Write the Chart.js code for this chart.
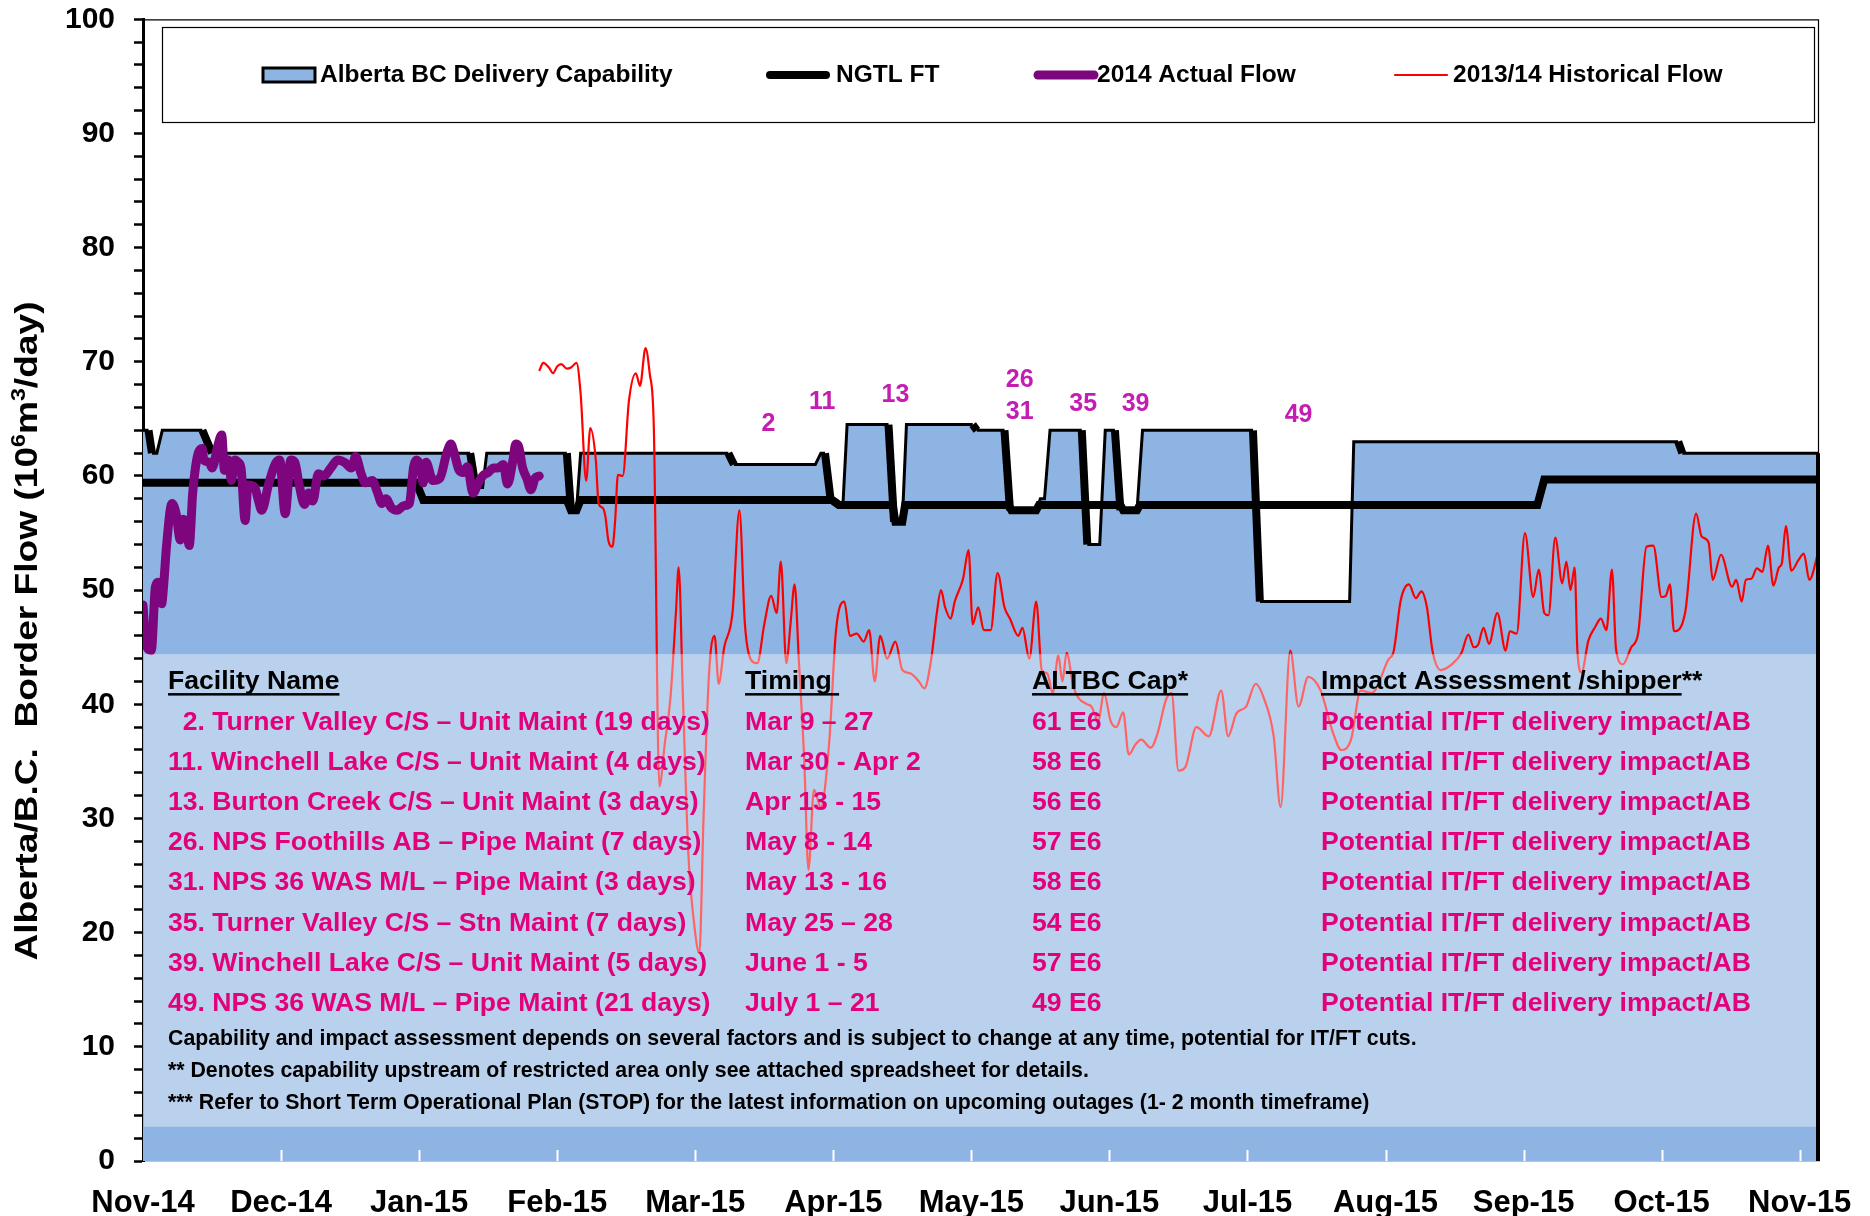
<!DOCTYPE html>
<html>
<head>
<meta charset="utf-8">
<title>Alberta/B.C. Border Flow</title>
<script src="https://cdn.jsdelivr.net/npm/chart.js@4.4.1/dist/chart.umd.min.js"></script>
<style>
  html, body { margin: 0; padding: 0; background: #fff; }
  #wrap { width: 1870px; height: 1216px; }
</style>
</head>
<body>
<div id="wrap"><canvas id="chart" width="1870" height="1216"></canvas></div>
<script>
// x values are months counted from Nov-14
var monthLabels = ['Nov-14', 'Dec-14', 'Jan-15', 'Feb-15', 'Mar-15', 'Apr-15', 'May-15',
    'Jun-15', 'Jul-15', 'Aug-15', 'Sep-15', 'Oct-15', 'Nov-15'];
var xEnd = 12.14;

// Alberta BC Delivery Capability
var capMonths = [0, 0.04, 0.065, 0.10, 0.14, 0.43, 0.50, 2.37, 2.41, 2.46, 2.49, 3.07, 3.10, 3.14, 3.17,
    4.24, 4.28, 4.87, 4.91, 4.94, 4.98, 5.04, 5.07, 5.10, 5.40, 5.44, 5.50, 5.53, 6.01, 6.04,
    6.24, 6.28, 6.47, 6.50, 6.53, 6.57, 6.80, 6.84, 6.93, 6.97, 7.04, 7.08, 7.20, 7.24, 8.04,
    8.09, 8.74, 8.77, 11.12, 11.15, 12.14];
var capValues = [64, 64, 62, 62, 64, 64, 62, 62, 59, 59, 62, 62, 57, 57, 62,
    62, 61, 61, 62, 62, 58, 57.5, 57.5, 64.5, 64.5, 56, 56, 64.5, 64.5, 64,
    64, 57, 57, 58, 58, 64, 64, 54, 54, 64, 64, 57, 57, 64, 64,
    49, 49, 63, 63, 62, 62];

// NGTL FT
var ftMonths = [0, 1.98, 2.03, 3.07, 3.10, 3.14, 3.17, 4.99, 5.04, 5.43, 5.45, 5.50, 5.52, 6.27, 6.29,
    6.47, 6.49, 7.08, 7.10, 7.20, 7.22, 10.10, 10.15, 12.14];
var ftValues = [59.4, 59.4, 57.9, 57.9, 57, 57, 57.9, 57.9, 57.45, 57.45, 56, 56, 57.45, 57.45, 57,
    57, 57.45, 57.45, 57, 57, 57.45, 57.45, 59.7, 59.7];

// 2014 Actual Flow
var actualMonths = [0, 0.02, 0.04, 0.06, 0.09, 0.11, 0.135, 0.15, 0.17, 0.21, 0.24, 0.27, 0.29, 0.31, 0.335,
    0.36, 0.40, 0.43, 0.44, 0.48, 0.50, 0.545, 0.57, 0.59, 0.62, 0.64, 0.665, 0.69, 0.71, 0.74,
    0.76, 0.81, 0.835, 0.86, 0.91, 0.96, 0.99, 1.03, 1.07, 1.10, 1.13, 1.17, 1.20, 1.23, 1.27,
    1.31, 1.36, 1.41, 1.46, 1.51, 1.54, 1.58, 1.61, 1.66, 1.70, 1.73, 1.76, 1.80, 1.84, 1.89,
    1.93, 1.96, 1.98, 2.01, 2.03, 2.05, 2.10, 2.15, 2.20, 2.23, 2.25, 2.29, 2.32, 2.35, 2.39,
    2.43, 2.46, 2.50, 2.54, 2.57, 2.61, 2.64, 2.68, 2.70, 2.72, 2.75, 2.78, 2.81, 2.84, 2.87];
var actualValues = [48.7, 45.5, 44.8, 44.7, 50.3, 50.7, 48.8, 50.5, 53.8, 57.6, 56.7, 54.4, 56.2, 55.9, 53.9,
    58.5, 62.0, 62.4, 61.4, 61.2, 60.7, 62.8, 63.6, 60.5, 61.4, 59.6, 61.4, 61.2, 60.7, 56.1,
    59.2, 59.0, 57.9, 57.0, 59.3, 61.1, 61.4, 56.7, 61.4, 61.2, 59.3, 57.5, 58.5, 57.8, 60.2,
    60.0, 60.7, 61.4, 61.2, 60.7, 61.7, 60.2, 59.4, 59.6, 58.5, 57.6, 58.0, 57.2, 57.0, 57.4,
    57.6, 60.8, 61.4, 60.8, 59.4, 61.2, 59.6, 59.8, 62.0, 62.8, 62.2, 60.5, 60.3, 60.8, 58.5,
    59.4, 60.0, 60.3, 60.7, 60.7, 61.0, 59.3, 61.4, 62.8, 62.6, 60.7, 59.8, 58.8, 59.8, 60.0];

// 2013/14 Historical Flow
var histMonths = [2.87, 2.90, 2.94, 2.97, 3.00, 3.03, 3.07, 3.10, 3.14, 3.17, 3.21, 3.24, 3.28, 3.30, 3.33,
    3.35, 3.37, 3.40, 3.42, 3.44, 3.475, 3.52, 3.57, 3.60, 3.64, 3.67, 3.70, 3.74, 3.78, 3.82,
    3.86, 3.88, 3.91, 3.95, 3.99, 4.03, 4.06, 4.10, 4.14, 4.17, 4.21, 4.27, 4.32, 4.36, 4.40,
    4.45, 4.50, 4.55, 4.59, 4.62, 4.66, 4.69, 4.72, 4.75, 4.79, 4.82, 4.86, 4.91, 4.97, 5.02,
    5.08, 5.12, 5.17, 5.22, 5.26, 5.30, 5.34, 5.39, 5.45, 5.50, 5.56, 5.62, 5.66, 5.71, 5.75,
    5.78, 5.81, 5.85, 5.88, 5.94, 5.98, 6.01, 6.05, 6.09, 6.14, 6.19, 6.24, 6.28, 6.34, 6.37,
    6.42, 6.47, 6.51, 6.55, 6.59, 6.63, 6.66, 6.69, 6.74, 6.78, 6.84, 6.87, 6.92, 6.96, 7.01,
    7.05, 7.10, 7.14, 7.19, 7.23, 7.30, 7.35, 7.41, 7.45, 7.50, 7.55, 7.63, 7.72, 7.81, 7.86,
    7.92, 7.99, 8.06, 8.12, 8.19, 8.24, 8.31, 8.37, 8.44, 8.53, 8.62, 8.68, 8.75, 8.82, 8.90,
    9.02, 9.06, 9.11, 9.17, 9.22, 9.26, 9.30, 9.34, 9.40, 9.48, 9.55, 9.60, 9.64, 9.67, 9.71,
    9.75, 9.81, 9.87, 9.90, 9.95, 10.01, 10.07, 10.11, 10.15, 10.18, 10.23, 10.28, 10.31, 10.34, 10.37,
    10.39, 10.42, 10.47, 10.52, 10.56, 10.60, 10.64, 10.67, 10.72, 10.78, 10.83, 10.89, 10.94, 11.00, 11.03,
    11.06, 11.09, 11.17, 11.25, 11.29, 11.34, 11.37, 11.43, 11.51, 11.54, 11.58, 11.61, 11.65, 11.69, 11.73,
    11.77, 11.81, 11.85, 11.87, 11.90, 11.94, 11.99, 12.03, 12.07, 12.14];
var histValues = [69.2, 69.9, 69.5, 69.0, 69.6, 69.8, 69.4, 69.5, 69.9, 67.2, 59.6, 64.2, 61.4, 57.6, 57.2,
    56.4, 54.4, 53.8, 56.1, 60.1, 60.0, 66.6, 69.0, 67.9, 71.2, 69.0, 64.3, 32.8, 36.6, 40.5,
    48, 52, 41, 27, 21, 18.2, 30, 42.7, 46, 41.8, 45, 48, 57, 47, 44,
    43.6, 47, 49.5, 48, 52.5, 43.6, 47, 50.5, 44, 35, 25.5, 32.5, 31, 36.6, 46.5,
    49, 46, 46.2, 45.5, 46.5, 42, 46, 44, 45.5, 43, 42.7, 42, 41.4, 44, 48,
    50, 48.5, 47.5, 49, 51, 53.5, 47, 48.5, 46.5, 46.5, 51.5, 48.5, 47.5, 46, 46.7,
    44, 49, 43, 42.7, 41, 44.3, 42, 44.5, 41.5, 40.5, 40, 39.8, 38.5, 41, 38.5,
    38, 39.3, 35.6, 36.5, 36.9, 36.2, 37.5, 40.4, 41, 34.2, 34.5, 38, 37.2, 41.2, 37.2,
    39.2, 39.8, 41.8, 40.5, 37.2, 31, 44.7, 39.8, 42.4, 41.2, 37.5, 36, 36.9, 41.2, 41,
    43.9, 44.7, 49.1, 50.5, 49.3, 49.9, 48.5, 44.7, 43, 43.5, 44.5, 46.1, 45, 45.2, 46.7,
    45.3, 48, 44.7, 46.4, 46.2, 55, 49.4, 51.8, 48, 47.8, 54.6, 50.6, 52.5, 50, 52,
    44.7, 42.8, 45.6, 46.8, 47.5, 46.5, 51.8, 44.8, 43.5, 45, 46.2, 53.8, 53.9, 49.4, 49.5,
    50.5, 46.4, 48, 56.7, 54.7, 54.2, 50.9, 53.1, 50.3, 50.9, 49, 50.9, 51, 51.9, 51.6,
    53.9, 50.4, 52, 52.3, 55.6, 51.7, 52.6, 53.2, 50.9, 53.6];

// outage numbers written above the capability line (month, value)
var outageIds = ['2', '11', '13', '26', '31', '35', '39', '49'];
var outageMonths = [4.53, 4.92, 5.45, 6.35, 6.35, 6.81, 7.19, 8.37];
var outageValues = [64.5, 66.5, 67.1, 68.4, 65.6, 66.3, 66.3, 65.3];

// outage table
var tableHeaders = ['Facility Name', 'Timing', 'ALTBC Cap*', 'Impact Assessment /shipper**'];
var facilityNames = [
    '  2. Turner Valley C/S \u2013 Unit Maint (19 days)',
    '11. Winchell Lake C/S \u2013 Unit Maint (4 days)',
    '13. Burton Creek C/S \u2013 Unit Maint (3 days)',
    '26. NPS Foothills AB \u2013 Pipe Maint (7 days)',
    '31. NPS 36 WAS M/L \u2013 Pipe Maint (3 days)',
    '35. Turner Valley C/S \u2013 Stn Maint (7 days)',
    '39. Winchell Lake C/S \u2013 Unit Maint (5 days)',
    '49. NPS 36 WAS M/L \u2013 Pipe Maint (21 days)'];
var timings = ['Mar 9 \u2013 27', 'Mar 30 - Apr 2', 'Apr 13 - 15', 'May 8 - 14', 'May 13 - 16',
    'May 25 \u2013 28', 'June 1 - 5', 'July 1 \u2013 21'];
var capTexts = ['61 E6', '58 E6', '56 E6', '57 E6', '58 E6', '54 E6', '57 E6', '49 E6'];
var impacts = ['Potential IT/FT delivery impact/AB', 'Potential IT/FT delivery impact/AB',
    'Potential IT/FT delivery impact/AB', 'Potential IT/FT delivery impact/AB',
    'Potential IT/FT delivery impact/AB', 'Potential IT/FT delivery impact/AB',
    'Potential IT/FT delivery impact/AB', 'Potential IT/FT delivery impact/AB'];
var footnotes = [
    'Capability and impact assessment depends on several factors and is subject to change at any time, potential for IT/FT cuts.',
    '** Denotes capability upstream of restricted area only see attached spreadsheet for details.',
    '*** Refer to Short Term Operational Plan (STOP) for the latest information on upcoming outages (1- 2 month timeframe)'];

var FONT = '"Liberation Sans", Arial, sans-serif';

function toPoints(xs, ys) {
    return xs.map(function (x, i) { return { x: x, y: ys[i] }; });
}

function underlined(ctx, text, x, y, part) {
    ctx.fillText(text, x, y);
    var w = ctx.measureText(part || text).width;
    ctx.fillRect(x, y + 11, w, 2.5);
}

var decorPlugin = {
    id: 'decor',
    afterDatasetsDraw: function (chart) {
        var ctx = chart.ctx, area = chart.chartArea;
        var xs = chart.scales.x, ys = chart.scales.y;
        ctx.save();

        // pale band behind the outage table
        var bandTop = ys.getPixelForValue(44.4), bandBottom = ys.getPixelForValue(3);
        ctx.fillStyle = 'rgba(255,255,255,0.39)';
        ctx.fillRect(area.left + 1, bandTop, area.right - area.left - 4, bandBottom - bandTop);

        // outage numbers
        ctx.fillStyle = '#C41DB2';
        ctx.font = 'bold 25px ' + FONT;
        ctx.textAlign = 'center';
        ctx.textBaseline = 'middle';
        outageIds.forEach(function (id, i) {
            ctx.fillText(id, xs.getPixelForValue(outageMonths[i]), ys.getPixelForValue(outageValues[i]));
        });

        // table
        var cols = [area.left + 25, area.left + 602, area.left + 889, area.left + 1178];
        var headY = bandTop + 28, rowStep = 40.2;
        ctx.textAlign = 'left';
        ctx.fillStyle = '#000';
        ctx.font = 'bold 26.6px ' + FONT;
        underlined(ctx, tableHeaders[0], cols[0], headY);
        underlined(ctx, tableHeaders[1], cols[1], headY, tableHeaders[1] + ' ');
        underlined(ctx, tableHeaders[2], cols[2], headY);
        underlined(ctx, tableHeaders[3], cols[3], headY, 'Impact Assessment /shipper');

        ctx.fillStyle = '#E2007B';
        for (var i = 0; i < facilityNames.length; i++) {
            var y = headY + rowStep * (i + 1);
            ctx.fillText(facilityNames[i], cols[0], y);
            ctx.fillText(timings[i], cols[1], y);
            ctx.fillText(capTexts[i], cols[2], y);
            ctx.fillText(impacts[i], cols[3], y);
        }

        ctx.fillStyle = '#000';
        ctx.font = 'bold 21.3px ' + FONT;
        var fy = headY + rowStep * 8 + 35;
        footnotes.forEach(function (t, k) {
            ctx.fillText(t, cols[0], fy + k * 32.4);
        });
        ctx.restore();
    },
    afterDraw: function (chart) {
        var ctx = chart.ctx, area = chart.chartArea;
        var xs = chart.scales.x, ys = chart.scales.y;
        var ds = chart.data.datasets;
        ctx.save();

        // white month ticks inside the plot
        ctx.strokeStyle = '#fff';
        ctx.lineWidth = 2;
        for (var m = 1; m < monthLabels.length; m++) {
            var px = Math.round(xs.getPixelForValue(m)) + 0.5;
            ctx.beginPath();
            ctx.moveTo(px, area.bottom - 11);
            ctx.lineTo(px, area.bottom);
            ctx.stroke();
        }

        // plot frame top / right
        ctx.strokeStyle = '#000';
        ctx.lineWidth = 1.2;
        ctx.beginPath();
        ctx.moveTo(area.left, area.top + 0.5);
        ctx.lineTo(area.right - 0.5, area.top + 0.5);
        ctx.lineTo(area.right - 0.5, area.bottom);
        ctx.stroke();
        // closing edge of the capability area
        ctx.lineWidth = 4;
        ctx.beginPath();
        ctx.moveTo(area.right - 1, ys.getPixelForValue(capValues[capValues.length - 1]));
        ctx.lineTo(area.right - 1, area.bottom);
        ctx.stroke();

        // legend box
        ctx.lineWidth = 1.2;
        ctx.strokeRect(162.5, 27.5, 1652, 95);
        var ly = 75;
        ctx.font = 'bold 24.5px ' + FONT;
        ctx.textBaseline = 'middle';
        ctx.textAlign = 'left';
        ctx.fillStyle = ds[0].backgroundColor;
        ctx.fillRect(263, 68, 52, 14);
        ctx.lineWidth = 3;
        ctx.strokeStyle = '#000';
        ctx.strokeRect(263, 68, 52, 14);
        ctx.fillStyle = '#000';
        ctx.fillText(ds[0].label, 320, ly);

        var items = [[1, 770, 826, 836], [3, 1038, 1094, 1097], [2, 1395, 1447, 1453]];
        items.forEach(function (it) {
            var d = ds[it[0]];
            ctx.strokeStyle = d.borderColor;
            ctx.lineWidth = d.borderWidth;
            ctx.lineCap = 'round';
            ctx.beginPath();
            ctx.moveTo(it[1], ly);
            ctx.lineTo(it[2], ly);
            ctx.stroke();
            ctx.fillStyle = '#000';
            ctx.fillText(d.label, it[3], ly);
        });

        // y axis title with superscripts
        ctx.translate(26, 631);
        ctx.rotate(-Math.PI / 2);
        ctx.scale(1.16, 1);
        var big = 'bold 32px ' + FONT, small = 'bold 20px ' + FONT;
        var parts = [['Alberta/B.C.  Border Flow (10', big, 0], ['6', small, -12], ['m', big, 0],
            ['3', small, -12], ['/day)', big, 0]];
        var total = 0;
        parts.forEach(function (p) { ctx.font = p[1]; p.push(ctx.measureText(p[0]).width); total += p[3]; });
        var x = -total / 2;
        ctx.textBaseline = 'alphabetic';
        ctx.fillStyle = '#000';
        parts.forEach(function (p) {
            ctx.font = p[1];
            ctx.fillText(p[0], x, 11 + p[2]);
            x += p[3];
        });
        ctx.restore();
    }
};

var ctx = document.getElementById('chart').getContext('2d');

var flowChart = new Chart(ctx, {
    type: 'line',
    data: {
        datasets: [
            {
                label: 'Alberta BC Delivery Capability',
                data: toPoints(capMonths, capValues),
                backgroundColor: '#8EB4E3',
                borderWidth: 0,
                fill: 'origin',
                tension: 0,
                order: 5
            },
            {
                label: 'NGTL FT',
                data: toPoints(ftMonths, ftValues),
                borderColor: '#000',
                borderWidth: 8,
                fill: false,
                tension: 0,
                order: 3
            },
            {
                label: '2013/14 Historical Flow',
                data: toPoints(histMonths, histValues),
                borderColor: '#FF0000',
                borderWidth: 2.2,
                fill: false,
                cubicInterpolationMode: 'monotone',
                order: 2
            },
            {
                label: '2014 Actual Flow',
                data: toPoints(actualMonths, actualValues),
                borderColor: '#7D067F',
                borderWidth: 9,
                fill: false,
                cubicInterpolationMode: 'monotone',
                borderCapStyle: 'round',
                borderJoinStyle: 'round',
                order: 1
            },
            {
                // outline of the capability area; falling edges drawn heavy
                label: 'Capability outline',
                data: toPoints(capMonths, capValues),
                borderColor: '#000',
                borderWidth: 3,
                fill: false,
                tension: 0,
                order: 4,
                segment: {
                    borderWidth: function (c) { return c.p1.parsed.y < c.p0.parsed.y - 0.3 ? 8 : 3; }
                }
            }
        ]
    },
    options: {
        responsive: false,
        animation: false,
        events: [],
        elements: { point: { radius: 0 } },
        layout: { padding: { left: 0, right: 51, top: 19, bottom: 0 } },
        plugins: {
            legend: { display: false },
            tooltip: { enabled: false }
        },
        scales: {
            x: {
                type: 'linear',
                min: 0,
                max: xEnd,
                z: 1,
                afterBuildTicks: function (scale) {
                    scale.ticks = monthLabels.map(function (l, i) { return { value: i }; });
                },
                afterFit: function (scale) { scale.height = 55; },
                grid: { display: false, drawTicks: false },
                border: { display: true, color: '#C4C4C4', width: 2 },
                ticks: {
                    autoSkip: false,
                    maxRotation: 0,
                    padding: 18,
                    color: '#000',
                    font: { family: FONT, size: 31, weight: 'bold', lineHeight: 1.6 },
                    callback: function (value) { return monthLabels[value]; }
                }
            },
            y: {
                min: 0,
                max: 100,
                z: 1,
                afterFit: function (scale) { scale.width = 143; },
                grid: {
                    drawOnChartArea: false,
                    drawTicks: true,
                    tickLength: 9,
                    tickWidth: 2.5,
                    color: '#000'
                },
                border: { display: true, color: '#000', width: 3 },
                ticks: {
                    stepSize: 2,
                    autoSkip: false,
                    padding: 19,
                    color: '#000',
                    font: { family: FONT, size: 30, weight: 'bold', lineHeight: 0.02 },
                    callback: function (v) { return v % 10 === 0 ? v : ''; }
                }
            }
        }
    },
    plugins: [decorPlugin]
});
</script>
</body>
</html>
